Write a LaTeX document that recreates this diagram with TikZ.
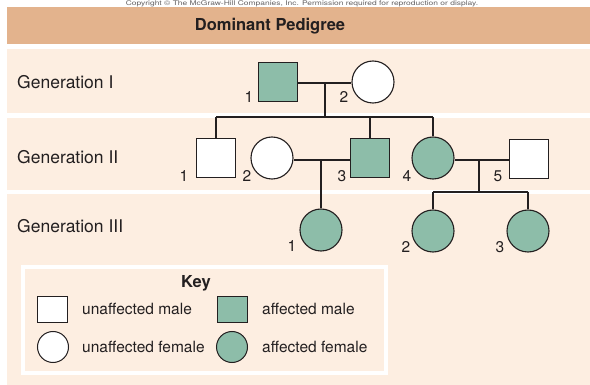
\documentclass[tikz,border=0pt]{standalone}
\usepackage{fontspec}
\setmainfont{TeX Gyre Heros}
\definecolor{titlecol}{HTML}{E3B38D}
\definecolor{peach}{HTML}{FDEEE1}
\definecolor{affcol}{HTML}{8DBDA9}
\definecolor{ink}{HTML}{231F20}
\begin{document}
\begin{tikzpicture}[x=1pt,y=-1pt,
 male/.style={rectangle,draw=ink,line width=1.1pt,minimum size=39pt,inner sep=0pt,fill=white},
 female/.style={circle,draw=ink,line width=1.1pt,minimum size=42pt,inner sep=0pt,fill=white},
 kmale/.style={rectangle,draw=ink,line width=1pt,minimum width=30pt,minimum height=26pt,inner sep=0pt,fill=white},
 kfemale/.style={circle,draw=ink,line width=1pt,minimum size=31pt,inner sep=0pt,fill=white},
 aff/.style={fill=affcol},
 link/.style={draw=ink,line width=2pt},
 num/.style={font=\fontsize{15.5}{16}\selectfont,text=ink,inner sep=0pt},
 gen/.style={font=\fontsize{17.5}{18}\selectfont,anchor=west,inner sep=0pt,text=ink},
 keytext/.style={font=\fontsize{15.5}{16}\selectfont,anchor=west,inner sep=0pt,text=ink},
]
\useasboundingbox (0,0) rectangle (590,385);
\clip (0,0) rectangle (590,385);
% background
\fill[white] (0,0) rectangle (590,385);
\fill[peach] (7,49) rectangle (590,385);
\fill[titlecol] (7,7) rectangle (590,44);
\fill[white] (7,113) rectangle (590,118);
\fill[white] (7,190) rectangle (590,194);
\node[font=\fontsize{6.5}{6.5}\selectfont,text=ink!70,anchor=base,inner sep=0pt,xscale=1.3] (copy) at (302,5.2) {Copyright © The McGraw-Hill Companies, Inc. Permission required for reproduction or display.};
\node[font=\bfseries\fontsize{16.5}{17}\selectfont,text=ink,inner sep=0pt] (title) at (270,26) {Dominant Pedigree};
% generation labels
\node[gen] (g1) at (17,82) {Generation I};
\node[gen] (g2) at (17,157) {Generation II};
\node[gen] (g3) at (17,226) {Generation III};
% Generation I
\node[male,aff] (I1) at (278,82) {};
\node[female] (I2) at (373,82) {};
% Generation II
\node[male] (II1) at (216,158) {};
\node[female] (II2) at (272,158) {};
\node[male,aff] (II3) at (370,158) {};
\node[female,aff] (II4) at (433,158) {};
\node[male] (II5) at (529,159) {};
% Generation III
\node[female,aff] (III1) at (321,230) {};
\node[female,aff] (III2) at (433,231) {};
\node[female,aff] (III3) at (528,231) {};
% numbers
\node[num] (nI1) at (249,97) {1};
\node[num] (nI2) at (344,97) {2};
\node[num] (nII1) at (184,176) {1};
\node[num] (nII2) at (247,176) {2};
\node[num] (nII3) at (342,176) {3};
\node[num] (nII4) at (407,176) {4};
\node[num] (nII5) at (498,176) {5};
\node[num] (nIII1) at (292,246) {1};
\node[num] (nIII2) at (406,247) {2};
\node[num] (nIII3) at (500,247) {3};
% connectors
\coordinate (m1) at (325,83);
\coordinate (s1) at (325,117);
\coordinate (s1l) at (216,117);
\coordinate (s1r) at (433,117);
\coordinate (s1m) at (370,117);
\draw[link] (I1.east |- m1) -- (I2.west |- m1);
\draw[link] (m1) -- (s1);
\draw[link] (s1l) -- (s1r);
\draw[link] (s1l) -- (II1.north);
\draw[link] (s1m) -- (II3.north);
\draw[link] (s1r) -- (II4.north);
\coordinate (m2) at (321,160);
\draw[link] (II2.east |- m2) -- (II3.west |- m2);
\draw[link] (m2) -- (III1.north);
\coordinate (m3) at (479,160);
\coordinate (s3) at (479,192);
\coordinate (s3l) at (433,192);
\coordinate (s3r) at (528,192);
\draw[link] (II4.east |- m3) -- (II5.west |- m3);
\draw[link] (m3) -- (s3);
\draw[link] (s3l) -- (s3r);
\draw[link] (s3l) -- (III2.north);
\draw[link] (s3r) -- (III3.north);
% key
\draw[white,line width=4pt] (23,267) rectangle (386,373);
\node[font=\bfseries\fontsize{16.5}{17}\selectfont,text=ink,inner sep=0pt] (keyt) at (196,283) {Key};
\node[kmale] (k1) at (52,310) {};
\node[keytext] (k1t) at (82,309) {unaffected male};
\node[kmale,aff] (k2) at (232,310) {};
\node[keytext] (k2t) at (262,309) {affected male};
\node[kfemale] (k3) at (53,347) {};
\node[keytext] (k3t) at (82,347) {unaffected female};
\node[kfemale,aff] (k4) at (232,347) {};
\node[keytext] (k4t) at (262,347) {affected female};
\end{tikzpicture}
\end{document}
